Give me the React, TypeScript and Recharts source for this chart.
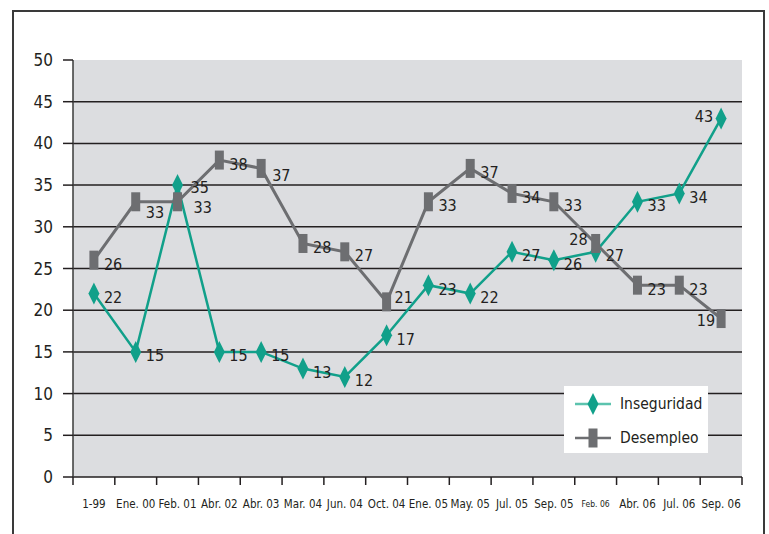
import React from 'react';
import { LineChart, Line, XAxis, YAxis, ReferenceLine, CartesianGrid, LabelList } from 'recharts';

const categories = ['1-99', 'Ene. 00', 'Feb. 01', 'Abr. 02', 'Abr. 03', 'Mar. 04', 'Jun. 04', 'Oct. 04', 'Ene. 05', 'May. 05', 'Jul. 05', 'Sep. 05', 'Feb. 06', 'Abr. 06', 'Jul. 06', 'Sep. 06'];
const inseguridad = [22, 15, 35, 15, 15, 13, 12, 17, 23, 22, 27, 26, 27, 33, 34, 43];
const desempleo = [26, 33, 33, 38, 37, 28, 27, 21, 33, 37, 34, 33, 28, 23, 23, 19];
const yTicks = [0, 5, 10, 15, 20, 25, 30, 35, 40, 45, 50];
const gridValues = [5, 10, 15, 20, 25, 30, 35, 40, 45];

const data = categories.map((c, i) => ({ cat: c, Inseguridad: inseguridad[i], Desempleo: desempleo[i] }));

const GREEN = '#11a08a';
const GREEN_LIGHT = '#5cc3ae';
const GRAY = '#6d6e71';
const INK = '#231f20';
const FONT = "'DejaVu Sans Condensed', 'Liberation Sans Narrow', sans-serif";

const W = 769;
const H = 534;
const M = { top: 60, right: 27, bottom: 0, left: 0 };
const Y_W = 73;
const X_H = 57;
const PLOT_W = W - M.left - M.right - Y_W;
const BAND = PLOT_W / categories.length;

// label placement style (not data)
type Nudge = { dx: number; dy: number; anchor?: 'start' | 'end' };
const insNudge: Record<number, Nudge> = {
  2: { dx: 13, dy: 2 },
  15: { dx: -8, dy: -2, anchor: 'end' },
};
const desNudge: Record<number, Nudge> = {
  1: { dx: 10, dy: 11 },
  2: { dx: 16, dy: 6 },
  4: { dx: 11, dy: 7 },
  7: { dx: 8, dy: -4 },
  12: { dx: -8, dy: -4, anchor: 'end' },
  15: { dx: -6, dy: 2, anchor: 'end' },
};

const makeLabel = (nudges: Record<number, Nudge>) => (props: any) => {
  const { x, y, value, index } = props;
  const n = nudges[index] || { dx: 10, dy: 4 };
  return (
    <text
      x={x + n.dx}
      y={y + n.dy}
      textAnchor={n.anchor || 'start'}
      dominantBaseline="central"
      fontFamily={FONT}
      fontSize={16}
      fill={INK}
    >
      {value}
    </text>
  );
};

const Diamond = (props: any) => {
  const { cx, cy } = props;
  if (cx == null || cy == null) return null;
  return <path d={`M${cx},${cy - 11} L${cx + 5.5},${cy} L${cx},${cy + 11} L${cx - 5.5},${cy} Z`} fill={GREEN} />;
};

const Rect = (props: any) => {
  const { cx, cy } = props;
  if (cx == null || cy == null) return null;
  return <rect x={cx - 4.5} y={cy - 9.5} width={9} height={19} fill={GRAY} />;
};

const XTick = (props: any) => {
  const { x, y, payload, index } = props;
  const small = payload.value === 'Feb. 06';
  return (
    <g>
      <line x1={x - BAND / 2} x2={x - BAND / 2} y1={y} y2={y + 8} stroke={INK} strokeWidth={1.5} />
      {index === categories.length - 1 && (
        <line x1={x + BAND / 2} x2={x + BAND / 2} y1={y} y2={y + 8} stroke={INK} strokeWidth={1.5} />
      )}
      <text
        x={x}
        y={y + 27}
        textAnchor="middle"
        dominantBaseline="central"
        fontFamily={FONT}
        fontSize={small ? 8.5 : 11.5}
        fill={INK}
      >
        {payload.value}
      </text>
    </g>
  );
};

const series = [
  { name: 'Inseguridad', color: GREEN, line: GREEN_LIGHT, marker: 'diamond' },
  { name: 'Desempleo', color: GRAY, line: GRAY, marker: 'rect' },
];

export default function App() {
  return (
    <div style={{ position: 'fixed', left: 0, top: 0, width: W, height: H, overflow: 'hidden', background: '#fff' }}>
      <div
        style={{
          position: 'absolute',
          left: 12,
          top: 10,
          width: 749,
          height: 600,
          border: '2px solid #3a3a3a',
        }}
      />
      <div style={{ position: 'absolute', left: 0, top: 0 }}>
        <LineChart width={W} height={H} data={data} margin={M}>
          <CartesianGrid horizontal={false} vertical={false} stroke="none" fill="#dcdde0" fillOpacity={1} />
          {gridValues.map((v) => (
            <ReferenceLine key={v} y={v} stroke={INK} strokeWidth={1.5} />
          ))}
          <XAxis
            dataKey="cat"
            height={X_H}
            padding={{ left: BAND / 2, right: BAND / 2 }}
            tickSize={0}
            tickMargin={0}
            tickLine={false}
            axisLine={{ stroke: INK, strokeWidth: 1.5 }}
            tick={<XTick />}
            interval={0}
          />
          <YAxis
            width={Y_W}
            domain={[0, 50]}
            ticks={yTicks}
            interval={0}
            tickSize={10}
            tickMargin={10}
            axisLine={{ stroke: '#3a3a3a', strokeWidth: 1.5 }}
            tickLine={{ stroke: INK, strokeWidth: 1.5 }}
            tick={{ fontFamily: FONT, fontSize: 17, fill: INK }}
          />
          <Line
            dataKey="Inseguridad"
            stroke={GREEN}
            strokeWidth={2.5}
            dot={<Diamond />}
            activeDot={false}
            isAnimationActive={false}
          >
            <LabelList dataKey="Inseguridad" content={makeLabel(insNudge)} />
          </Line>
          <Line
            dataKey="Desempleo"
            stroke={GRAY}
            strokeWidth={3}
            dot={<Rect />}
            activeDot={false}
            isAnimationActive={false}
          >
            <LabelList dataKey="Desempleo" content={makeLabel(desNudge)} />
          </Line>
        </LineChart>
      </div>
      <div
        style={{
          position: 'absolute',
          left: 564,
          top: 386,
          width: 144,
          height: 67,
          background: '#fff',
          fontFamily: FONT,
          color: INK,
        }}
      >
        {series.map((s, i) => (
          <div key={s.name} style={{ position: 'absolute', left: 0, top: 4 + i * 34, height: 28, width: 144 }}>
            <svg width={50} height={28} style={{ position: 'absolute', left: 8, top: 0 }}>
              <line x1={3} x2={39} y1={14} y2={14} stroke={s.line} strokeWidth={2.5} />
              {s.marker === 'diamond' ? (
                <path d="M21,3 L26.5,14 L21,25 L15.5,14 Z" fill={s.color} />
              ) : (
                <rect x={16.5} y={4.5} width={9} height={19} fill={s.color} />
              )}
            </svg>
            <span style={{ position: 'absolute', left: 56, top: 3, fontSize: 15.5, lineHeight: '22px' }}>{s.name}</span>
          </div>
        ))}
      </div>
    </div>
  );
}
